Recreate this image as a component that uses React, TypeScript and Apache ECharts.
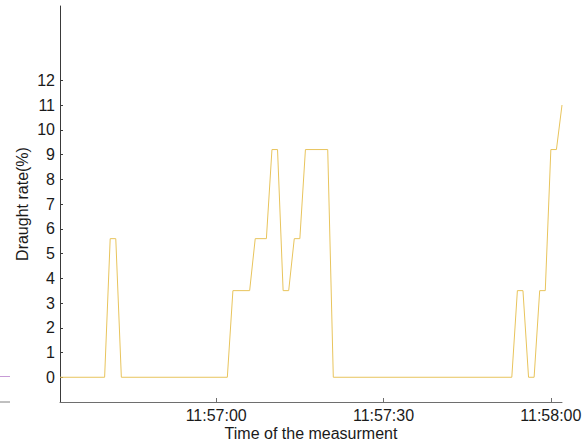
import React, { useEffect, useRef } from "react";
import * as echarts from "echarts";

// Sample times (hh:mm:ss) where the draught rate changes, and the rate there (%)
const sampleTimes = [
  "11:56:32", "11:56:40", "11:56:41", "11:56:42", "11:56:43",
  "11:57:02", "11:57:03", "11:57:06", "11:57:07", "11:57:09",
  "11:57:10", "11:57:11", "11:57:12", "11:57:13", "11:57:14",
  "11:57:15", "11:57:16", "11:57:20", "11:57:21", "11:57:53",
  "11:57:54", "11:57:55", "11:57:56", "11:57:57", "11:57:58",
  "11:57:59", "11:58:00", "11:58:01", "11:58:02",
];
const draughtRate = [
  0, 0, 5.6, 5.6, 0,
  0, 3.5, 3.5, 5.6, 5.6,
  9.2, 9.2, 3.5, 3.5, 5.6,
  5.6, 9.2, 9.2, 0, 0,
  3.5, 3.5, 0, 0, 3.5,
  3.5, 9.2, 9.2, 11,
];

const timeTicks = ["11:57:00", "11:57:30", "11:58:00"];
const rateTicks = [0, 1, 2, 3, 4, 5, 6, 7, 8, 9, 10, 11, 12];
const axisStart = "11:56:32";
const axisEnd = "11:58:02";

const toSeconds = (s: string) => {
  const [h, m, sec] = s.split(":").map(Number);
  return h * 3600 + m * 60 + sec;
};
const pad = (n: number) => String(n).padStart(2, "0");
const toClock = (v: number) =>
  `${pad(Math.floor(v / 3600))}:${pad(Math.floor((v % 3600) / 60))}:${pad(Math.round(v % 60))}`;

const FONT = "'Liberation Sans', Arial, Helvetica, sans-serif";
const TEXT = "#1a1a1a";

export default function App() {
  const ref = useRef<HTMLDivElement>(null);

  useEffect(() => {
    if (!ref.current) return;
    const chart = echarts.init(ref.current, null, { renderer: "svg" });
    const points = sampleTimes.map((t, i) => [toSeconds(t), draughtRate[i]]);

    chart.setOption({
      animation: false,
      backgroundColor: "#ffffff",
      textStyle: { fontFamily: FONT },
      grid: {
        left: 60,
        right: 25,
        top: 6,
        bottom: 42,
        containLabel: false,
        outerBoundsMode: "none",
      },
      xAxis: {
        type: "value",
        min: toSeconds(axisStart),
        max: toSeconds(axisEnd),
        name: "Time of the measurment",
        nameLocation: "middle",
        nameGap: 23,
        nameMoveOverlap: false,
        nameTextStyle: { fontSize: 16, color: TEXT, fontFamily: FONT },
        axisLine: { onZero: false, lineStyle: { color: "#6e6e6e", width: 1 } },
        axisTick: {
          inside: true,
          length: 4,
          customValues: timeTicks.map(toSeconds),
          lineStyle: { color: "#6e6e6e" },
        },
        axisLabel: {
          customValues: timeTicks.map(toSeconds),
          formatter: (v: number) => toClock(v),
          fontSize: 16,
          color: TEXT,
          margin: 5,
          fontFamily: FONT,
        },
        splitLine: { show: false },
      },
      yAxis: {
        type: "value",
        min: -1,
        max: 15,
        interval: 1,
        name: "Draught rate(%)",
        nameLocation: "middle",
        nameGap: 30,
        nameMoveOverlap: false,
        nameTextStyle: { fontSize: 16, color: TEXT, fontFamily: FONT },
        axisLine: { show: true, onZero: false, lineStyle: { color: "#3a3a3a", width: 1 } },
        axisTick: {
          show: true,
          inside: true,
          length: 3,
          customValues: rateTicks,
          lineStyle: { color: "#3a3a3a" },
        },
        axisLabel: {
          customValues: rateTicks,
          fontSize: 16,
          color: TEXT,
          margin: 5,
          fontFamily: FONT,
        },
        splitLine: { show: false },
      },
      graphic: [
        {
          type: "line",
          shape: { x1: 0, y1: 376.5, x2: 10, y2: 376.5 },
          style: { stroke: "#c79bd6", lineWidth: 1 },
        },
        {
          type: "line",
          shape: { x1: 0, y1: 402, x2: 10, y2: 402 },
          style: { stroke: "#808080", lineWidth: 1 },
        },
      ],
      series: [
        {
          type: "line",
          data: points,
          showSymbol: false,
          lineStyle: { color: "#e8c45c", width: 1 },
          itemStyle: { color: "#e8c45c" },
        },
      ],
    });

    return () => chart.dispose();
  }, []);

  return (
    <div
      ref={ref}
      style={{ position: "fixed", left: 0, top: 0, width: 587, height: 444, background: "#fff" }}
    />
  );
}
